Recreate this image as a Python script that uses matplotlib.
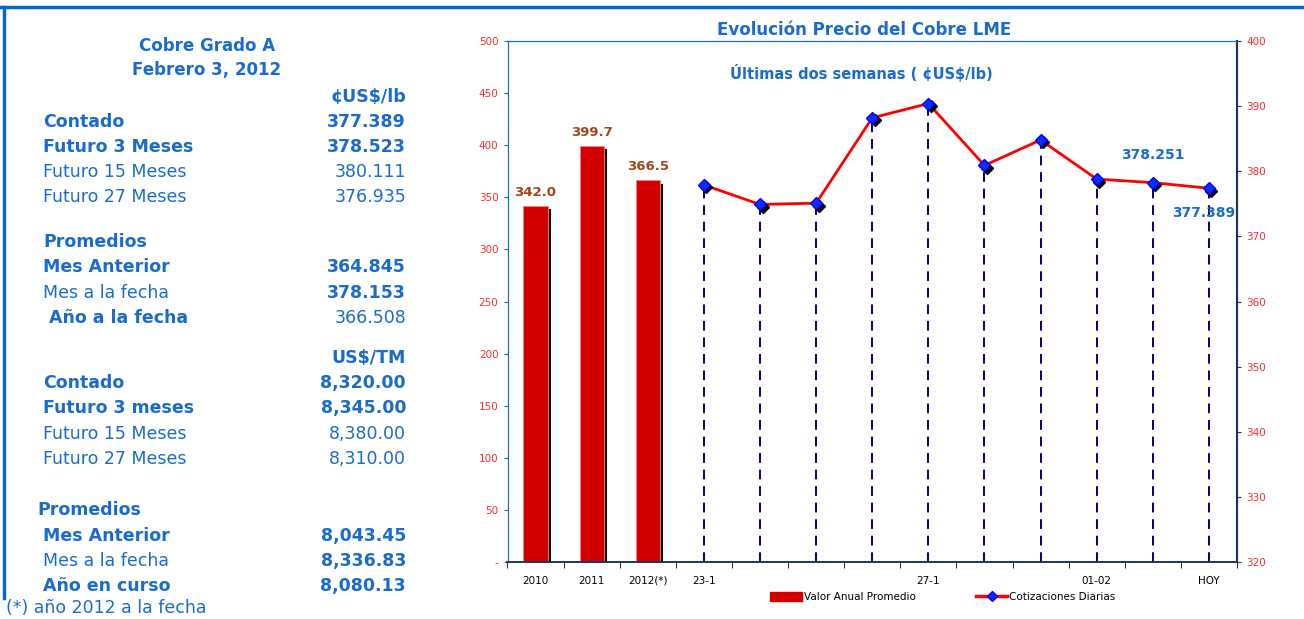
import matplotlib
matplotlib.use("Agg")
import matplotlib.pyplot as plt
import matplotlib.patheffects as pe
import matplotlib.transforms as mtransforms
from matplotlib.patches import Patch
from matplotlib.lines import Line2D

# datos
anios = ["2010", "2011", "2012(*)"]
promedio_anual = [342.0, 399.7, 366.5]
dias = ["23-1", "", "", "", "27-1", "", "", "01-02", "", "HOY"]
cotizaciones = [377.9, 374.9, 375.1, 388.2, 390.4, 380.9, 384.8, 378.8, 378.251, 377.389]

# tabla de la izquierda: (texto, negrita, x, y) y (valor, negrita, y)
filas_texto = [
    ("Contado", True, 43, 122), ("Futuro 3 Meses", True, 43, 147),
    ("Futuro 15 Meses", False, 43, 172), ("Futuro 27 Meses", False, 43, 197),
    ("Promedios", True, 43, 242), ("Mes Anterior", True, 43, 267),
    ("Mes a la fecha", False, 43, 293), ("Año a la fecha", True, 49, 318),
    ("Contado", True, 43, 383), ("Futuro 3 meses", True, 43, 408),
    ("Futuro 15 Meses", False, 43, 434), ("Futuro 27 Meses", False, 43, 459),
    ("Promedios", True, 37, 510), ("Mes Anterior", True, 43, 536),
    ("Mes a la fecha", False, 43, 561), ("Año en curso", True, 43, 586),
]
filas_valor = [
    ("¢US$/lb", True, 97), ("377.389", True, 122), ("378.523", True, 147),
    ("380.111", False, 172), ("376.935", False, 197),
    ("364.845", True, 267), ("378.153", True, 293), ("366.508", False, 318),
    ("US$/TM", True, 358), ("8,320.00", True, 383), ("8,345.00", True, 408),
    ("8,380.00", False, 434), ("8,310.00", False, 459),
    ("8,043.45", True, 536), ("8,336.83", True, 561), ("8,080.13", True, 586),
]

W, H = 1304, 619
AZUL = "#1a6ccc"
ROJO = "#d40000"
NAVY = "#000080"


def fx(px):
    return px / W


def fy(py):
    return 1 - py / H


fig = plt.figure(figsize=(W / 100, H / 100), dpi=100)
fig.patch.set_facecolor("white")

# marco
fig.add_artist(Line2D([0, 1], [fy(7), fy(7)], color="#0a64d2", lw=2.5, transform=fig.transFigure))
fig.add_artist(Line2D([fx(4), fx(4)], [fy(7), fy(598)], color="#0a64d2", lw=2.5, transform=fig.transFigure))

# panel de texto
fig.text(fx(207), fy(46), "Cobre Grado A", ha="center", va="center", color=AZUL, fontsize=12, fontweight="bold")
fig.text(fx(207), fy(70), "Febrero 3, 2012", ha="center", va="center", color=AZUL, fontsize=12, fontweight="bold")
for txt, bold, x, y in filas_texto:
    fig.text(fx(x), fy(y), txt, ha="left", va="center", color=AZUL, fontsize=12.5,
             fontweight="bold" if bold else "normal")
for txt, bold, y in filas_valor:
    fig.text(fx(406), fy(y), txt, ha="right", va="center", color=AZUL, fontsize=12.5,
             fontweight="bold" if bold else "normal")
fig.text(fx(6), fy(608), "(*) año 2012 a la fecha", ha="left", va="center", color=AZUL, fontsize=12.5)

# grafico
left, right, top, bottom = 507.5, 1237, 41, 562
ax = fig.add_axes([fx(left), fy(bottom), fx(right - left), (bottom - top) / H])
ax2 = ax.twinx()

n_bar = len(anios)
x_bar = list(range(n_bar))
x_lin = list(range(n_bar, n_bar + len(cotizaciones)))
etiquetas = anios + dias

sombra = [pe.SimplePatchShadow(offset=(2.5, -2.5), shadow_rgbFace="black", alpha=1.0), pe.Normal()]
ax.bar(x_bar, promedio_anual, width=0.43, color=ROJO, edgecolor="#ff8080", linewidth=0.6,
       path_effects=sombra, zorder=3)
for xb, v in zip(x_bar, promedio_anual):
    ax.annotate(f"{v:.1f}", (xb, v), xytext=(0, 5), textcoords="offset points", ha="center", va="bottom",
                color="#a0441c", fontsize=9.5, fontweight="bold")

ax.set_ylim(0, 500)
ax.set_yticks(range(0, 501, 50))
ax.set_yticklabels(["-"] + [str(v) for v in range(50, 501, 50)])
ax.set_xlim(-0.5, len(etiquetas) - 0.5)

ax2.vlines(x_lin, 320, cotizaciones, colors=NAVY, linestyles=(0, (5, 3.5)), linewidth=1.4, zorder=2)
ax2.plot(x_lin, cotizaciones, color="#ff0000", lw=2, zorder=3)
desplazado = mtransforms.offset_copy(ax2.transData, fig=fig, x=2.5, y=-2.5, units="dots")
ax2.plot(x_lin, cotizaciones, linestyle="none", marker="D", markersize=6.5, color="black",
         transform=desplazado, zorder=4)
ax2.plot(x_lin, cotizaciones, linestyle="none", marker="D", markersize=6.5, color="#0a2cff",
         markeredgecolor="#0000ff", zorder=5)
ax2.set_ylim(320, 400)
ax2.set_yticks(range(320, 401, 10))

ax2.annotate("378.251", (x_lin[-2], cotizaciones[-2]), xytext=(0, 20), textcoords="offset points",
             ha="center", va="center", color=AZUL, fontsize=10, fontweight="bold")
ax2.annotate("377.389", (x_lin[-1], cotizaciones[-1]), xytext=(-4, -18), textcoords="offset points",
             ha="center", va="center", color=AZUL, fontsize=10, fontweight="bold", zorder=6)

# ejes
ax.set_xticks(range(len(etiquetas)))
ax.set_xticklabels(etiquetas, fontsize=7.5, color="black")
ax.tick_params(axis="x", length=0, pad=10)
ax.set_xticks([i - 0.5 for i in range(len(etiquetas) + 1)], minor=True)
ax.tick_params(axis="x", which="minor", length=4, direction="out", color="black")
ax.tick_params(axis="y", labelsize=7.5, labelcolor="#ff2a2a", length=3, color="#1a6ccc")
ax2.tick_params(axis="y", labelsize=7.5, labelcolor="#ff2a2a", length=3, color="#1f3550")
for a in (ax, ax2):
    a.spines["left"].set_color("#1a6ccc")
    a.spines["top"].set_color("#1a6ccc")
    a.spines["right"].set_color("#1f3550")
    a.spines["right"].set_linewidth(1.5)
    a.spines["bottom"].set_color("#1f3550")
    a.spines["bottom"].set_linewidth(1.2)
ax.set_facecolor("none")

fig.text(fx(864), fy(30), "Evolución Precio del Cobre LME", ha="center", va="center",
         color=AZUL, fontsize=12, fontweight="bold")
fig.text(fx(861), fy(73), "Últimas dos semanas ( ¢US$/lb)", ha="center", va="center",
         color=AZUL, fontsize=10.5, fontweight="bold")

# leyenda
handles = [Patch(facecolor=ROJO, edgecolor=ROJO),
           Line2D([0], [0], color="#ff0000", lw=2.5, marker="D", markersize=5, markerfacecolor="#0a2cff",
                  markeredgecolor="#0000ff")]
fig.legend(handles, ["Valor Anual Promedio", "Cotizaciones Diarias"], loc="center",
           bbox_to_anchor=(fx(943), fy(597)), ncol=2, frameon=False, fontsize=7.5,
           handlelength=3.0, handleheight=0.9, columnspacing=5.8, handletextpad=0.2)

fig.savefig("out.png", dpi=100)
